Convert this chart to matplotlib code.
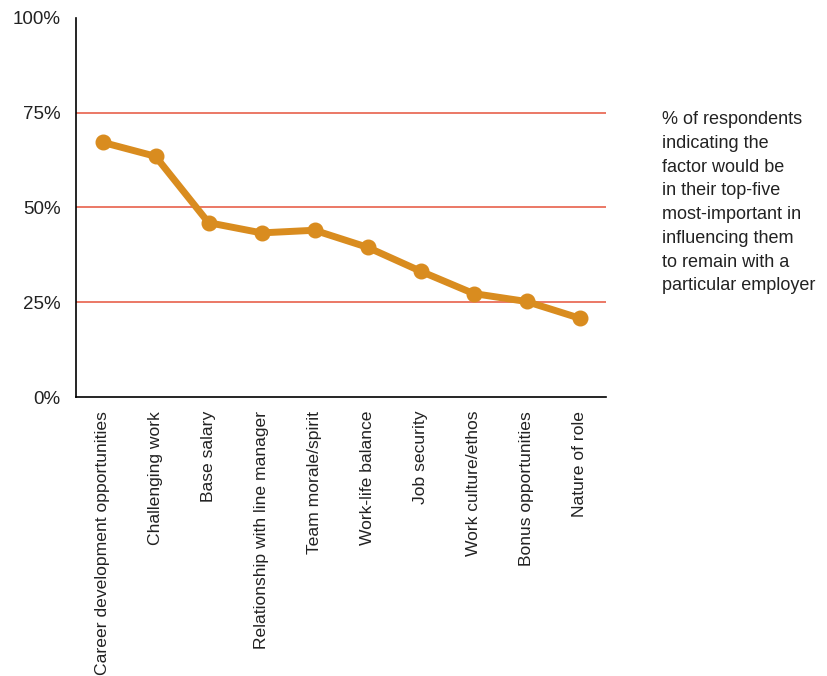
import matplotlib.pyplot as plt

factors = [
    "Career development opportunities",
    "Challenging work",
    "Base salary",
    "Relationship with line manager",
    "Team morale/spirit",
    "Work-life balance",
    "Job security",
    "Work culture/ethos",
    "Bonus opportunities",
    "Nature of role",
]
pct = [67.2, 63.5, 46.0, 43.3, 44.0, 39.5, 33.2, 27.3, 25.2, 20.8]
y_ticks = [0, 25, 50, 75, 100]
y_labels = ["0%", "25%", "50%", "75%", "100%"]

note = ("% of respondents\nindicating the\nfactor would be\nin their top-five\n"
        "most-important in\ninfluencing them\nto remain with a\nparticular employer")

plt.rcParams["font.family"] = ["Liberation Sans", "DejaVu Sans"]

fig = plt.figure(figsize=(8.27, 6.76), dpi=100)
ax = fig.add_axes([0.0919, 0.4127, 0.6409, 0.5607])

x = list(range(len(factors)))
for g in [25, 50, 75]:
    ax.axhline(g, color="#e8614c", linewidth=1.2, zorder=1)

ax.plot(x, pct, color="#d98c1f", linewidth=5, marker="o",
        markersize=10.5, zorder=3)

ax.set_xlim(-0.5, len(factors) - 0.5)
ax.set_ylim(0, 100)
ax.set_yticks(y_ticks)
ax.set_yticklabels(y_labels, fontsize=13.5, color="#222222")
ax.set_xticks(x)
ax.set_xticklabels(factors, rotation=90, fontsize=12.6, color="#222222",
                   va="top", ha="center")
ax.tick_params(axis="both", length=0)
ax.tick_params(axis="y", pad=11)
ax.tick_params(axis="x", pad=10)

for side in ["top", "right"]:
    ax.spines[side].set_visible(False)
for side in ["left", "bottom"]:
    ax.spines[side].set_linewidth(1.2)
    ax.spines[side].set_color("black")

fig.text(662 / 827, 1 - 111 / 676, note, fontsize=13, color="#222222",
         ha="left", va="top", linespacing=1.52)

fig.savefig("out.png", dpi=100)
